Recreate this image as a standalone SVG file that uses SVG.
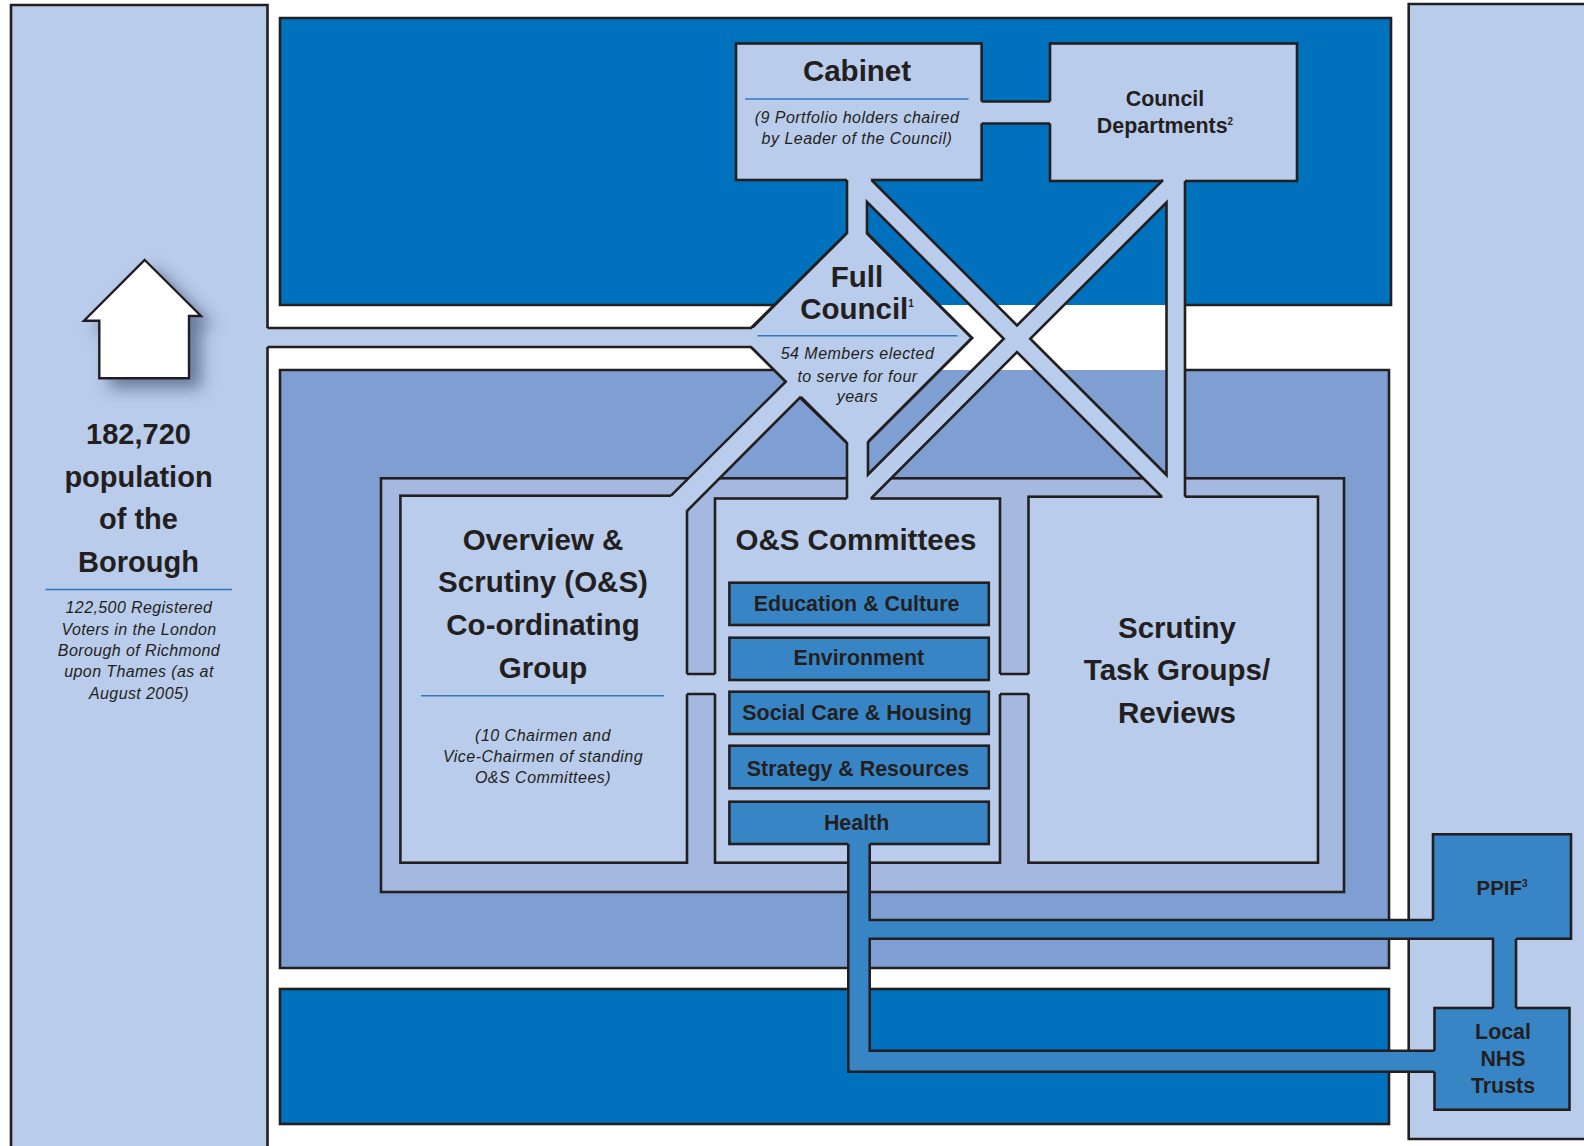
<svg xmlns="http://www.w3.org/2000/svg" width="1584" height="1146" viewBox="0 0 1584 1146">
<style>
text{font-family:"Liberation Sans",Arial,sans-serif;fill:#231f20;text-anchor:middle}
.b{font-weight:700}
.h1{font-size:29.5px;font-weight:700}
.h2{font-size:21.4px;font-weight:700}
.it{font-size:16px;font-style:italic;letter-spacing:.48px}
.sup{font-size:10px;font-weight:700}
.ln{fill:none;stroke:#231f20;stroke-width:2.6}
.lt{fill:#b9cceb;stroke:#231f20;stroke-width:2.6}
.cm{fill:#3885c6;stroke:#231f20;stroke-width:2.6}
.rule{stroke:#2f78bd;stroke-width:1.5;fill:none}
.cf{fill:#b9cceb;stroke:none}
.cb{fill:#3885c6;stroke:none}
</style>
<defs>
<filter id="sh" x="-40%" y="-40%" width="190%" height="190%">
<feDropShadow dx="11" dy="9" stdDeviation="8" flood-color="#2f3f5e" flood-opacity=".58"/>
</filter>
</defs>
<rect width="1584" height="1146" fill="#fff"/>
<g id="bands">
<rect x="280" y="18" width="1111" height="287" fill="#0071bd"/>
<path class="ln" d="M785 305H280V18H1391V305H1185"/>
<rect x="280" y="370" width="1109" height="598" fill="#7f9fd3"/>
<path class="ln" d="M785 370H280V968H1389V370H1185"/>
<rect x="280" y="989" width="1109" height="135" fill="#0071bd" stroke="#231f20" stroke-width="2.6"/>
<rect x="381" y="478.3" width="963" height="413.7" fill="#a5b9e0" stroke="#231f20" stroke-width="2.6"/>
</g>
<g id="population">
<path class="lt" d="M11 1152V5H267.5V1152"/>
<path id="house" d="M144.7 260L201 316H189V378.3H99.3V320.7H84Z" fill="#fff" stroke="#231f20" stroke-width="2.4" filter="url(#sh)"/>
<text class="b" font-size="29" x="138.5" y="443.5">182,720</text>
<text class="b" font-size="29" x="138.5" y="487">population</text>
<text class="b" font-size="29" x="138.5" y="529">of the</text>
<text class="b" font-size="29" x="138.5" y="572">Borough</text>
<path class="rule" d="M45.500 589.500H232"/>
<text class="it" x="139" y="613" style="letter-spacing:.4px">122,500 Registered</text>
<text class="it" x="139" y="634.500" style="letter-spacing:.4px">Voters in the London</text>
<text class="it" x="139" y="656" style="letter-spacing:.4px">Borough of Richmond</text>
<text class="it" x="139" y="677" style="letter-spacing:.4px">upon Thames (as at</text>
<text class="it" x="139" y="699" style="letter-spacing:.4px">August 2005)</text>
</g>
<g id="partners-panel">
<path class="lt" d="M1590 4H1408.700V1139H1590"/>
</g>
<g id="cabinet">
<rect class="lt" x="736" y="43.500" width="245.600" height="136.500"/>
<text class="h1" x="857" y="81">Cabinet</text>
<path class="rule" d="M745 99H968.600"/>
<text class="it" x="857" y="123">(9 Portfolio holders chaired</text>
<text class="it" x="857" y="144">by Leader of the Council)</text>
</g>
<g id="council-departments">
<rect class="lt" x="1050" y="43.500" width="247" height="137.500"/>
<text class="h2" x="1165" y="106">Council</text>
<text class="h2" x="1165" y="133">Departments<tspan class="sup" dy="-8">2</tspan></text>
</g>
<g id="full-council">
<path class="lt" d="M857 223L972 338L857 453L742 338Z"/>
<text class="h1" x="857" y="286.500">Full</text>
<text class="h1" x="857" y="318.500">Council<tspan class="sup" dy="-12" font-size="11">1</tspan></text>
<path class="rule" d="M757.500 335.700H957.500"/>
<text class="it" x="857.500" y="359">54 Members elected</text>
<text class="it" x="857.500" y="381.500">to serve for four</text>
<text class="it" x="857.500" y="402">years</text>
</g>
<g id="overview-scrutiny">
<rect class="lt" x="400.400" y="495.700" width="286.600" height="367"/>
<text class="h1" x="543" y="550">Overview &amp;</text>
<text class="h1" x="543" y="592">Scrutiny (O&amp;S)</text>
<text class="h1" x="543" y="635">Co-ordinating</text>
<text class="h1" x="543" y="678">Group</text>
<path class="rule" d="M421 695.700H664"/>
<text class="it" x="543" y="741">(10 Chairmen and</text>
<text class="it" x="543" y="762">Vice-Chairmen of standing</text>
<text class="it" x="543" y="783">O&amp;S Committees)</text>
</g>
<g id="os-committees">
<rect class="lt" x="715" y="498.500" width="285" height="364.200"/>
<text class="h1" x="856" y="550">O&amp;S Committees</text>
</g>
<g id="education-culture">
<rect class="cm" x="729.400" y="582.700" width="259.400" height="42.300"/>
<text class="h2" x="856.600" y="611">Education &amp; Culture</text>
</g>
<g id="environment">
<rect class="cm" x="729.400" y="637.700" width="259.400" height="42.300"/>
<text class="h2" x="858.800" y="665">Environment</text>
</g>
<g id="social-care-housing">
<rect class="cm" x="729.400" y="691.700" width="259.400" height="42.300"/>
<text class="h2" x="857" y="720">Social Care &amp; Housing</text>
</g>
<g id="strategy-resources">
<rect class="cm" x="729.400" y="745.700" width="259.400" height="42.600"/>
<text class="h2" x="858" y="776">Strategy &amp; Resources</text>
</g>
<g id="health">
<rect class="cm" x="729.400" y="801.700" width="259.400" height="42.300"/>
<text class="h2" x="856.600" y="830">Health</text>
</g>
<g id="scrutiny-task-groups">
<rect class="lt" x="1028.500" y="496.700" width="289.500" height="366"/>
<text class="h1" x="1177" y="638">Scrutiny</text>
<text class="h1" x="1177" y="680">Task Groups/</text>
<text class="h1" x="1177" y="723">Reviews</text>
</g>
<g id="ppif">
<rect class="cm" x="1433" y="834.300" width="138" height="104.400"/>
<text class="h2" style="font-size:20.4px" x="1502" y="895">PPIF<tspan class="sup" dy="-8">3</tspan></text>
</g>
<g id="local-nhs-trusts">
<rect class="cm" x="1434.500" y="1008" width="135" height="101.700"/>
<text class="h2" x="1503" y="1039">Local</text>
<text class="h2" x="1503" y="1066">NHS</text>
<text class="h2" x="1503" y="1093">Trusts</text>
</g>
<g id="connectors">
<g id="connector-fills">
<path class="cf" d="M265 328H755V347H265Z"/>
<path class="cf" d="M979 101.500H1052V123.500H979Z"/>
<path class="cf" d="M847 178H867V236H847Z"/>
<path class="cf" d="M847 440H868V500H847Z"/>
<path class="cf" d="M790 378L804 394L687 511L671 498V495.700L785.700 381.700Z"/>
<path class="cf" d="M852 187V178H869.500L1183 491.500V499H1164L867 202Z"/>
<path class="cf" d="M1163.500 179H1183V186L870.500 498.500V500H849V493.500Z"/>
<path class="cf" d="M1166.500 179H1185V499H1166.500Z"/>
<path class="cf" d="M685 674H717V694H685Z"/>
<path class="cf" d="M998 674H1030.500V694H998Z"/>
</g>
<g id="connector-edges">
<path class="ln" d="M267.500 328H751L847 233V180M267.500 347H751L785.700 381.700L671 495.700"/>
<path class="ln" d="M981.600 101.500H1050M981.600 123.500H1050"/>
<path class="ln" d="M687 511L800 397.500L847 443V498.500"/>
<path class="ln" d="M867 202V233.500L972 338L868 442V474.500L1003.750 338.750Z"/>
<path class="ln" d="M1166.500 202.500V475L1030.250 338.750Z"/>
<path class="ln" d="M1163 180L1017 325.500L871.500 180"/>
<path class="ln" d="M871 498.500L1017 352L1162 497"/>
<path class="ln" d="M1185 181V496.700"/>
<path class="ln" d="M687 674H715M687 694H715M1000 674H1028.500M1000 694H1028.500"/>
</g>
<g id="connector-health">
<path class="cb" d="M848.300 842H869.700V920H1435V936H1516V1010H1493V938.700H869.700V1050.700H1437V1071.700H848.300Z"/>
<path class="ln" d="M848.300 844V1071.700H1434.500M869.700 844V920H1433M1434.500 1050.700H869.700V938.700H1493V1008M1516 1008V938.700"/>
</g>
</g>
</svg>
